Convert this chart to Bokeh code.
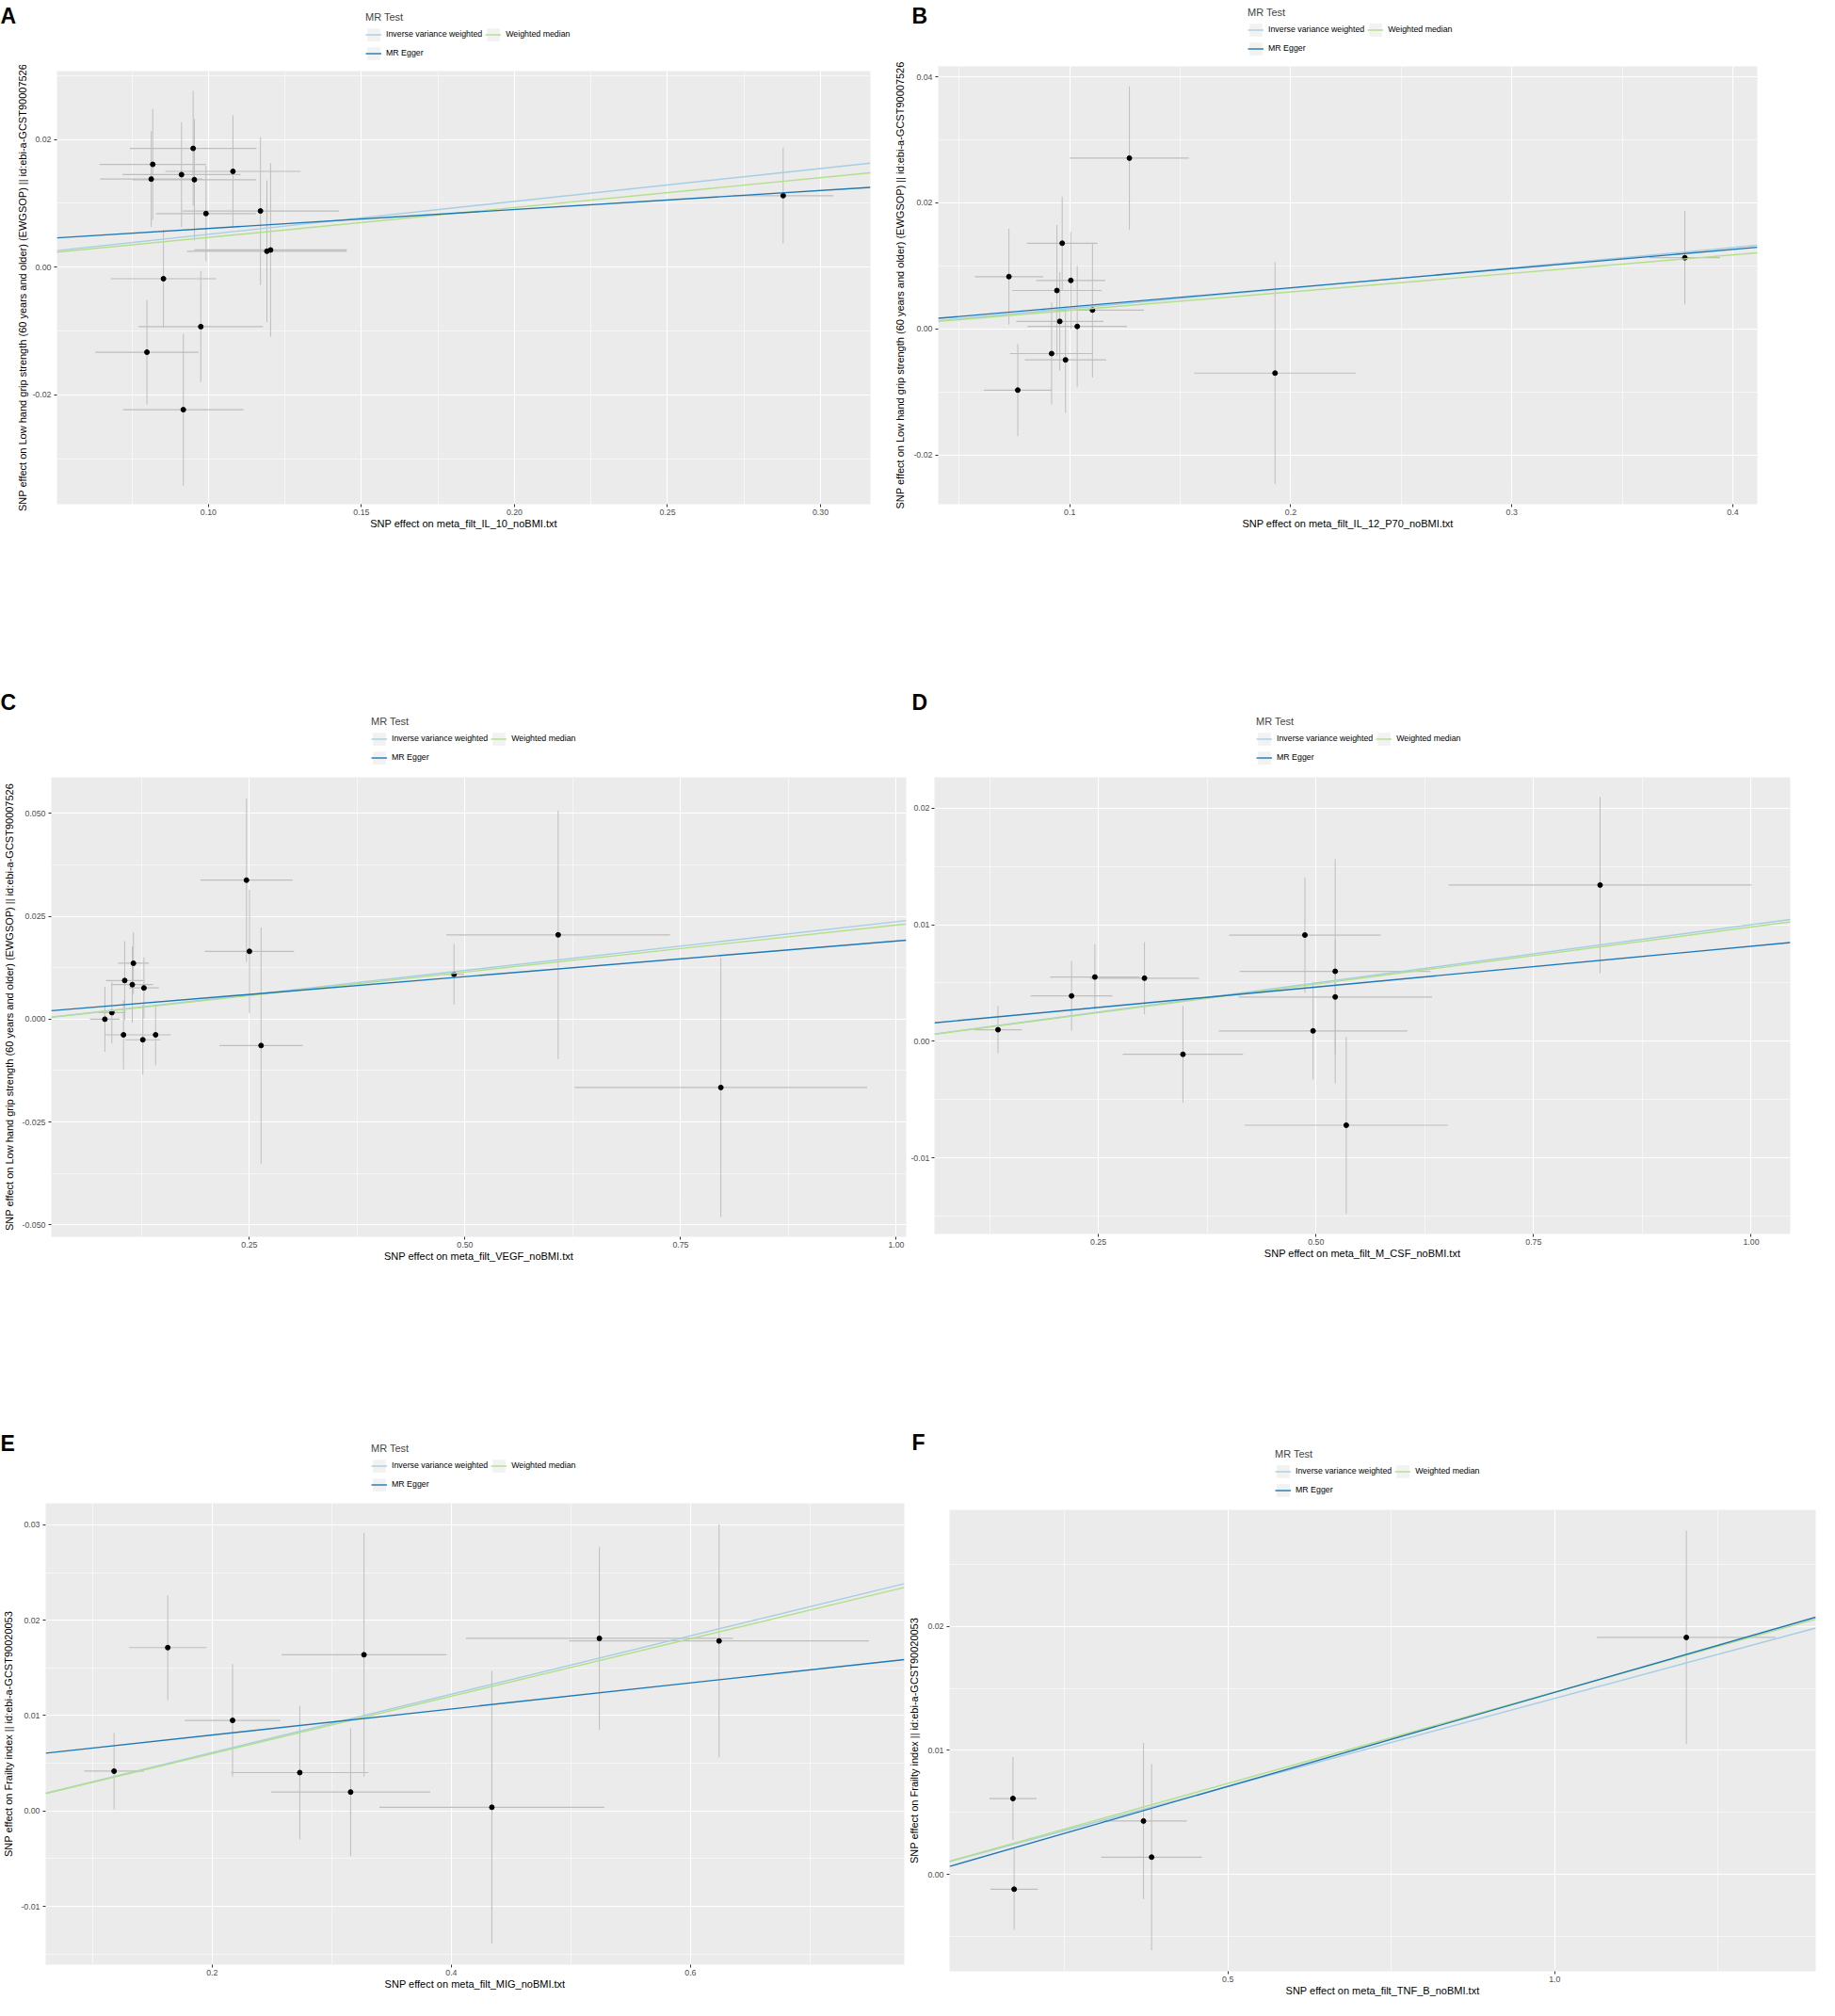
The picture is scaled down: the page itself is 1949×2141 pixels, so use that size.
from bokeh.plotting import figure
from bokeh.layouts import row, column
from bokeh.models import (ColumnDataSource, FixedTicker, PrintfTickFormatter, Legend,
                          LegendItem, Label, Range1d)
from bokeh.embed import file_html
from bokeh.resources import INLINE

FONT = "Liberation Sans"
METHODS = ["Inverse variance weighted", "MR Egger", "Weighted median"]
COLORS = ["#a6cee3", "#1f78b4", "#b2df8a"]
YLAB_GRIP = "SNP effect on Low hand grip strength (60 years and older) (EWGSOP) || id:ebi-a-GCST90007526"
YLAB_FRAIL = "SNP effect on Frailty index || id:ebi-a-GCST90020053"

# ---------------- Panel A : IL-10 ----------------
a_bx = [0.0950, 0.0818, 0.0813, 0.0912, 0.0954, 0.1080, 0.0992, 0.1170, 0.1191, 0.1203, 0.0853, 0.0975, 0.0799, 0.0918, 0.2878]
a_by = [0.0186, 0.0161, 0.0138, 0.0145, 0.0137, 0.0150, 0.0084, 0.0088, 0.0025, 0.0027, -0.0018, -0.0093, -0.0133, -0.0223, 0.0112]
a_sex = [0.0207, 0.0174, 0.0167, 0.0193, 0.0202, 0.0221, 0.0163, 0.0256, 0.0261, 0.0249, 0.0172, 0.0203, 0.0169, 0.0197, 0.0164]
a_sey = [0.0090, 0.0087, 0.0075, 0.0082, 0.0095, 0.0088, 0.0075, 0.0116, 0.0111, 0.0136, 0.0077, 0.0087, 0.0082, 0.0119, 0.0075]
a_slopes = [0.0515, 0.0297, 0.0467]      # IVW, MR Egger, Weighted median
a_intercepts = [0.0, 0.0031, 0.0]
a_xlim = [0.0505, 0.3163]
a_ylim = [-0.0371, 0.0307]
a_xticks = [0.10, 0.15, 0.20, 0.25, 0.30]
a_xminor = [0.075, 0.125, 0.175, 0.225, 0.275]
a_yticks = [-0.02, 0.00, 0.02]
a_yminor = [-0.03, -0.01, 0.01, 0.03]
a_xlab = "SNP effect on meta_filt_IL_10_noBMI.txt"

# ---------------- Panel B : IL-12 p70 ----------------
b_bx = [0.1270, 0.0966, 0.0725, 0.1005, 0.0942, 0.1103, 0.0955, 0.1034, 0.0918, 0.0981, 0.0765, 0.1929, 0.3783]
b_by = [0.0271, 0.0136, 0.0083, 0.0077, 0.0061, 0.0030, 0.0012, 0.0004, -0.0039, -0.0049, -0.0097, -0.0070, 0.0113]
b_sex = [0.0269, 0.0160, 0.0155, 0.0156, 0.0203, 0.0233, 0.0197, 0.0225, 0.0188, 0.0184, 0.0153, 0.0366, 0.0159]
b_sey = [0.0114, 0.0074, 0.0076, 0.0077, 0.0104, 0.0107, 0.0078, 0.0096, 0.0081, 0.0084, 0.0073, 0.0176, 0.0074]
b_slopes = [0.0323, 0.0304, 0.0294]
b_intercepts = [0.0, 0.00046, 0.0]
b_xlim = [0.0405, 0.4111]
b_ylim = [-0.0278, 0.04165]
b_xticks = [0.1, 0.2, 0.3, 0.4]
b_xminor = [0.05, 0.15, 0.25, 0.35]
b_yticks = [-0.02, 0.00, 0.02, 0.04]
b_yminor = [-0.01, 0.01, 0.03]
b_xlab = "SNP effect on meta_filt_IL_12_P70_noBMI.txt"

# ---------------- Panel C : VEGF ----------------
c_bx = [0.2466, 0.2500, 0.2635, 0.6080, 0.4872, 0.7966, 0.0824, 0.0905, 0.1054, 0.1155, 0.1142, 0.1277, 0.1040, 0.1264, 0.1412]
c_by = [0.0338, 0.0165, -0.0064, 0.0205, 0.0109, -0.0166, 0.0000, 0.0016, 0.0094, 0.0136, 0.0084, 0.0076, -0.0038, -0.0050, -0.0038]
c_sex = [0.0534, 0.0517, 0.0483, 0.1297, 0.0120, 0.1696, 0.0173, 0.0160, 0.0216, 0.0179, 0.0243, 0.0173, 0.0210, 0.0203, 0.0176]
c_sey = [0.0199, 0.0150, 0.0287, 0.0302, 0.0074, 0.0315, 0.0079, 0.0075, 0.0096, 0.0075, 0.0093, 0.0074, 0.0084, 0.0085, 0.0074]
c_slopes = [0.0237, 0.0173, 0.0229]
c_intercepts = [0.0, 0.0017, 0.0]
c_xlim = [0.0203, 1.0115]
c_ylim = [-0.0529, 0.0588]
c_xticks = [0.25, 0.50, 0.75, 1.00]
c_xminor = [0.125, 0.375, 0.625, 0.875]
c_yticks = [-0.050, -0.025, 0.000, 0.025, 0.050]
c_yminor = [-0.0375, -0.0125, 0.0125, 0.0375]
c_xlab = "SNP effect on meta_filt_VEGF_noBMI.txt"

# ---------------- Panel D : M-CSF ----------------
d_bx = [0.1347, 0.2192, 0.2460, 0.3030, 0.3472, 0.4873, 0.5221, 0.5221, 0.4967, 0.5348, 0.8264]
d_by = [0.00099, 0.00389, 0.00551, 0.00541, -0.00112, 0.00911, 0.00600, 0.00380, 0.00089, -0.00720, 0.01340]
d_sex = [0.0275, 0.0469, 0.0513, 0.0627, 0.0691, 0.0872, 0.1096, 0.1113, 0.1083, 0.1169, 0.1740]
d_sey = [0.00203, 0.00299, 0.00281, 0.00309, 0.00416, 0.00495, 0.00962, 0.00490, 0.00416, 0.00760, 0.00757]
d_slopes = [0.0100, 0.0070, 0.0098]
d_intercepts = [0.0, 0.00115, 0.0]
d_xlim = [0.0617, 1.0449]
d_ylim = [-0.01653, 0.02264]
d_xticks = [0.25, 0.50, 0.75, 1.00]
d_xminor = [0.125, 0.375, 0.625, 0.875]
d_yticks = [-0.01, 0.00, 0.01, 0.02]
d_yminor = [-0.015, -0.005, 0.005, 0.015]
d_xlab = "SNP effect on meta_filt_M_CSF_noBMI.txt"

# ---------------- Panel E : MIG ----------------
e_bx = [0.1180, 0.1629, 0.2171, 0.3270, 0.2733, 0.3158, 0.4339, 0.5238, 0.6239]
e_by = [0.00418, 0.01713, 0.00950, 0.01638, 0.00403, 0.00199, 0.00039, 0.01810, 0.01783]
e_sex = [0.0250, 0.0325, 0.0399, 0.0689, 0.0574, 0.0665, 0.0940, 0.1116, 0.1253]
e_sey = [0.0040, 0.0055, 0.0059, 0.0128, 0.0070, 0.0067, 0.0143, 0.0096, 0.0122]
e_slopes = [0.0306, 0.01367, 0.0301]
e_intercepts = [0.0, 0.00523, 0.0]
e_xlim = [0.0608, 0.7788]
e_ylim = [-0.01611, 0.03226]
e_xticks = [0.2, 0.4, 0.6]
e_xminor = [0.1, 0.3, 0.5, 0.7]
e_yticks = [-0.01, 0.00, 0.01, 0.02, 0.03]
e_yminor = [-0.015, -0.005, 0.005, 0.015, 0.025]
e_xlab = "SNP effect on meta_filt_MIG_noBMI.txt"

# ---------------- Panel F : TNF-B ----------------
f_bx = [0.1711, 0.1729, 0.3708, 0.3832, 1.2014]
f_by = [0.00613, -0.00117, 0.00432, 0.00141, 0.01910]
f_sex = [0.0361, 0.0365, 0.0664, 0.0771, 0.1368]
f_sey = [0.00334, 0.00327, 0.00629, 0.00750, 0.00860]
f_slopes = [0.01419, 0.01514, 0.0147]
f_intercepts = [0.0, -0.00046, 0.0]
f_xlim = [0.074, 1.3993]
f_ylim = [-0.00778, 0.02937]
f_xticks = [0.5, 1.0]
f_xminor = [0.25, 0.75, 1.25]
f_yticks = [0.00, 0.01, 0.02]
f_yminor = [-0.005, 0.005, 0.015, 0.025]
f_xlab = "SNP effect on meta_filt_TNF_B_noBMI.txt"

# geometry (pixels, local to each panel cell): figure W,H ; frame left/top/width/height ;
# letter x and baseline ; y-label standoff ; legend x (from frame left) and gap above the frame
GEOM = {
    "A": dict(W=947, H=722, fl=60, ft=75, fw=864, fh=460, lx=0, lb=16, ystd=1, legx=328, gap=15.5),
    "B": dict(W=986, H=722, fl=48, ft=70, fw=871, fh=465, lx=21, lb=16, ystd=5, legx=330, gap=15.5),
    "C": dict(W=964, H=790, fl=50, ft=103, fw=912, fh=488, lx=0, lb=23, ystd=5, legx=344, gap=17.5),
    "D": dict(W=969, H=790, fl=25, ft=103, fw=912, fh=485, lx=4, lb=23, ystd=0, legx=345, gap=17.5),
    "E": dict(W=962, H=610, fl=46, ft=84, fw=914, fh=490, lx=0, lb=20, ystd=4, legx=348, gap=16.5),
    "F": dict(W=971, H=610, fl=41, ft=91, fw=925, fh=490, lx=6, lb=19, ystd=5, legx=351, gap=17.5),
}
TOP_PAD = 6      # room above the frame inside the main figure
LEG_SHIFT = 5    # legend box is measured a little taller than drawn


def make_header(letter, g, src_data):
    hh = g["ft"] - TOP_PAD
    h = figure(width=g["W"], height=hh, output_backend="svg", toolbar_location=None, title=None,
               x_axis_location=None, y_axis_location=None,
               x_range=Range1d(-1, 1), y_range=Range1d(-1, 1),
               min_border_left=0, min_border_right=0, min_border_top=0, min_border_bottom=0)
    h.frame_align = False
    h.outline_line_color = None
    h.background_fill_color = "white"
    h.border_fill_color = "white"
    h.grid.visible = False
    src = ColumnDataSource(src_data)
    # legend proxies (hidden; only their legend glyphs are drawn)
    keybg = h.quad(left="xlo", right="xhi", bottom="ylo", top="yhi", source=src,
                   fill_color="#F2F2F2", line_color=None)
    keybg.visible = False
    proxies = []
    for i in range(3):
        r = h.line("x", "y", source=src, line_color=COLORS[i], line_width=1.4)
        r.visible = False
        proxies.append(r)
    items = [LegendItem(label=METHODS[i], renderers=[keybg, proxies[i]]) for i in range(3)]
    legend = Legend(items=items, title="MR Test",
                    location=(g["fl"] + g["legx"], g["gap"] - TOP_PAD - LEG_SHIFT),
                    orientation="vertical", nrows=2,
                    title_text_font=FONT, title_text_font_size="11px", title_text_font_style="normal",
                    title_standoff=4,
                    label_text_font=FONT, label_text_font_size="8.8px", label_text_color="black",
                    glyph_width=17, glyph_height=17, label_height=17, label_standoff=5,
                    spacing=3, padding=0, margin=0,
                    background_fill_alpha=0, border_line_color=None)
    h.add_layout(legend)
    h.add_layout(Label(x=g["lx"], y=hh - g["lb"], x_units="screen", y_units="screen",
                       text=letter, text_font=FONT, text_font_size="23px", text_font_style="bold",
                       text_color="black", text_baseline="alphabetic", text_align="left"))
    return h


def make_panel(letter, bx, by, sex, sey, slopes, intercepts, xlim, ylim,
               xticks, xminor, yticks, yminor, xfmt, yfmt, xlab, ylab):
    g = GEOM[letter]
    data = dict(
        x=bx, y=by,
        xlo=[v - s for v, s in zip(bx, sex)], xhi=[v + s for v, s in zip(bx, sex)],
        ylo=[v - s for v, s in zip(by, sey)], yhi=[v + s for v, s in zip(by, sey)])

    p = figure(width=g["W"], height=g["H"] - (g["ft"] - TOP_PAD), output_backend="svg",
               toolbar_location=None, title=None,
               x_range=Range1d(*xlim), y_range=Range1d(*ylim),
               min_border_left=g["fl"], min_border_top=TOP_PAD,
               min_border_right=g["W"] - g["fl"] - g["fw"],
               min_border_bottom=g["H"] - g["ft"] - g["fh"])
    p.frame_align = False
    p.background_fill_color = "#EBEBEB"
    p.border_fill_color = "white"
    p.outline_line_color = None

    p.xaxis.ticker = FixedTicker(ticks=xticks, minor_ticks=xminor)
    p.yaxis.ticker = FixedTicker(ticks=yticks, minor_ticks=yminor)
    p.xaxis.formatter = PrintfTickFormatter(format=xfmt)
    p.yaxis.formatter = PrintfTickFormatter(format=yfmt)
    for grid in (p.xgrid[0], p.ygrid[0]):
        grid.grid_line_color = "white"
        grid.grid_line_width = 1.1
        grid.minor_grid_line_color = "white"
        grid.minor_grid_line_width = 0.55
    for ax in (p.xaxis[0], p.yaxis[0]):
        ax.axis_line_color = None
        ax.major_tick_line_color = "#333333"
        ax.major_tick_out = 3
        ax.major_tick_in = 0
        ax.minor_tick_line_color = None
        ax.major_label_text_font = FONT
        ax.major_label_text_font_size = "8.8px"
        ax.major_label_text_color = "#4D4D4D"
        ax.axis_label_text_font = FONT
        ax.axis_label_text_font_size = "11px"
        ax.axis_label_text_font_style = "normal"
        ax.axis_label_text_color = "black"
    p.xaxis.major_label_standoff = 1
    p.xaxis.axis_label_standoff = 0
    p.xaxis.axis_label = xlab
    p.yaxis.major_label_standoff = 2 if letter != "D" else 1
    p.yaxis.axis_label_standoff = g["ystd"]
    p.yaxis.axis_label = ylab

    src = ColumnDataSource(data)
    p.segment(x0="x", y0="ylo", x1="x", y1="yhi", source=src, line_color="#BEBEBE", line_width=1.0)
    p.segment(x0="xlo", y0="y", x1="xhi", y1="y", source=src, line_color="#BEBEBE", line_width=1.2)
    p.scatter("x", "y", source=src, size=5, color="black")

    xs = list(xlim)
    for idx in (0, 2, 1):   # IVW, Weighted median, then MR Egger on top
        ys = [intercepts[idx] + slopes[idx] * xv for xv in xs]
        p.line(xs, ys, line_color=COLORS[idx], line_width=1.4)

    return column(make_header(letter, g, data), p)


pA = make_panel("A", a_bx, a_by, a_sex, a_sey, a_slopes, a_intercepts, a_xlim, a_ylim,
                a_xticks, a_xminor, a_yticks, a_yminor, "%.2f", "%.2f", a_xlab, YLAB_GRIP)
pB = make_panel("B", b_bx, b_by, b_sex, b_sey, b_slopes, b_intercepts, b_xlim, b_ylim,
                b_xticks, b_xminor, b_yticks, b_yminor, "%.1f", "%.2f", b_xlab, YLAB_GRIP)
pC = make_panel("C", c_bx, c_by, c_sex, c_sey, c_slopes, c_intercepts, c_xlim, c_ylim,
                c_xticks, c_xminor, c_yticks, c_yminor, "%.2f", "%.3f", c_xlab, YLAB_GRIP)
pD = make_panel("D", d_bx, d_by, d_sex, d_sey, d_slopes, d_intercepts, d_xlim, d_ylim,
                d_xticks, d_xminor, d_yticks, d_yminor, "%.2f", "%.2f", d_xlab, None)
pE = make_panel("E", e_bx, e_by, e_sex, e_sey, e_slopes, e_intercepts, e_xlim, e_ylim,
                e_xticks, e_xminor, e_yticks, e_yminor, "%.1f", "%.2f", e_xlab, YLAB_FRAIL)
pF = make_panel("F", f_bx, f_by, f_sex, f_sey, f_slopes, f_intercepts, f_xlim, f_ylim,
                f_xticks, f_xminor, f_yticks, f_yminor, "%.1f", "%.2f", f_xlab, YLAB_FRAIL)

layout = column(row(pA, pB), row(pC, pD), row(pE, pF))
open("out.html", "w").write(file_html(layout, INLINE, title="MR scatter plots"))
